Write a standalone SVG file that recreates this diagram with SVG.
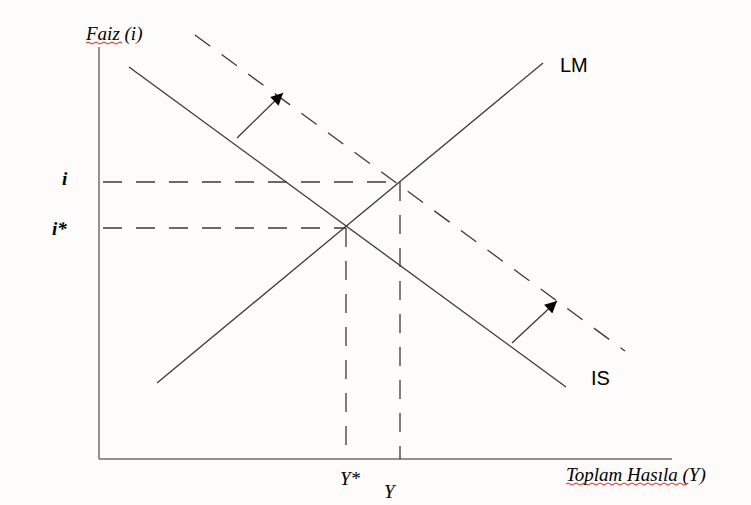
<svg xmlns="http://www.w3.org/2000/svg" width="751" height="505" viewBox="0 0 751 505">
<style>
.ax{stroke:#6e6e6e;stroke-width:1.5;fill:none}
.ln{stroke:#3a3a3a;stroke-width:1.3;fill:none}
.ds{stroke:#3a3a3a;stroke-width:1.3;fill:none;stroke-dasharray:19 14}
.it{font-family:"Liberation Serif",serif;font-style:italic;font-size:19px;fill:#000}
.bi{font-family:"Liberation Serif",serif;font-style:italic;font-weight:bold;font-size:19px;fill:#000}
.sn{font-family:"Liberation Sans",Arial,sans-serif;font-size:20px;fill:#000}
.sq{stroke:#e02020;stroke-width:1;fill:none}
</style>
<defs>
<marker id="ah" viewBox="0 0 10 10" refX="10" refY="5" markerWidth="14" markerHeight="12" markerUnits="userSpaceOnUse" orient="auto">
<path d="M0,0 L10,5 L0,10 z" fill="#000"/>
</marker>
</defs>
<rect width="751" height="505" fill="#fdfcfa"/>
<g id="axes">
<line class="ax" x1="99" y1="47" x2="99" y2="459"/>
<line class="ax" x1="99" y1="459" x2="672" y2="459"/>
</g>
<g id="connectors">
<line id="IS" class="ln" x1="129" y1="67" x2="566" y2="387"/>
<line id="LM" class="ln" x1="157" y1="383" x2="543" y2="63"/>
<line id="ISprime" class="ds" x1="195" y1="35" x2="625" y2="351"/>
<line class="ds" x1="103" y1="182" x2="400" y2="182"/>
<line class="ds" x1="103" y1="228" x2="346" y2="228"/>
<line class="ds" x1="346" y1="228" x2="346" y2="459"/>
<line class="ds" x1="400" y1="182" x2="400" y2="459"/>
<line class="ln" x1="237" y1="138" x2="283" y2="93" marker-end="url(#ah)"/>
<line class="ln" x1="512" y1="343" x2="557" y2="301" marker-end="url(#ah)"/>
</g>
<g id="labels">
<text class="it" x="86" y="40">Faiz (i)</text>
<path class="sq" d="M86,43 q2,-2 4,0 t4,0 t4,0 t4,0 t4,0 t4,0 t4,0 t4,0 t4,0"/>
<text class="bi" x="62" y="185">i</text>
<text class="bi" x="52" y="235">i*</text>
<text class="it" x="340" y="485">Y*</text>
<text class="it" x="384" y="498">Y</text>
<text class="it" x="566" y="481">Toplam Hasıla (Y)</text>
<path class="sq" d="M566,484 q2,-2 4,0 t4,0 t4,0 t4,0 t4,0 t4,0 t4,0 t4,0 t4,0 t4,0 t4,0 t4,0 t4,0 t4,0 t4,0 t4,0 t4,0 t4,0 t4,0 t4,0 t4,0 t4,0 t4,0 t4,0 t4,0 t4,0 t4,0 t4,0 t4,0 t4,0 t2,0"/>
<text class="sn" x="560" y="72">LM</text>
<text class="sn" x="591" y="385">IS</text>
</g>
</svg>
